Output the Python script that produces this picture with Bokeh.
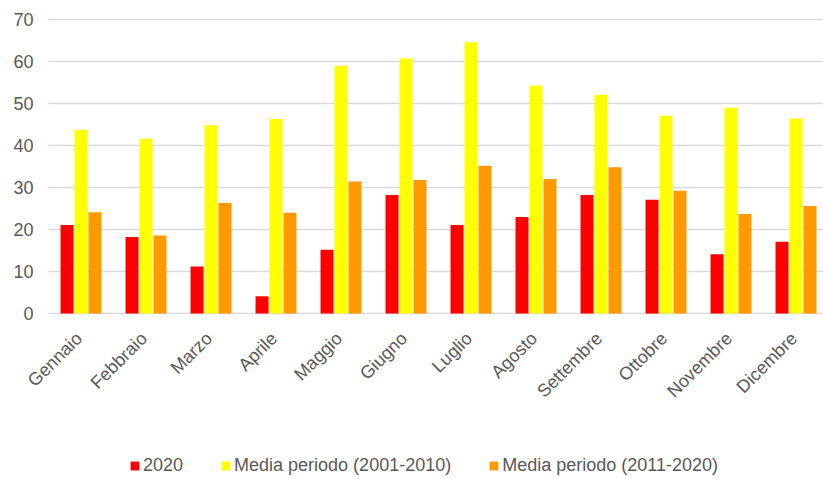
import math
from bokeh.plotting import figure
from bokeh.models import ColumnDataSource, Legend, LegendItem, Range1d
from bokeh.core.properties import value
from bokeh.embed import file_html
from bokeh.resources import INLINE

# Monthly values
months = ["Gennaio", "Febbraio", "Marzo", "Aprile", "Maggio", "Giugno",
          "Luglio", "Agosto", "Settembre", "Ottobre", "Novembre", "Dicembre"]
y2020 = [21.1, 18.2, 11.2, 4.1, 15.2, 28.2, 21.1, 23.0, 28.2, 27.1, 14.1, 17.1]
media_2001_2010 = [43.7, 41.6, 44.8, 46.3, 59.0, 60.7, 64.6, 54.3, 52.1, 47.1, 49.0, 46.4]
media_2011_2020 = [24.1, 18.6, 26.3, 24.0, 31.4, 31.8, 35.2, 32.0, 34.8, 29.2, 23.7, 25.6]
series_names = ["2020", "Media periodo (2001-2010)", "Media periodo (2011-2020)"]
y_ticks = [0, 10, 20, 30, 40, 50, 60, 70]

colors = ["#FF0000", "#FFFF00", "#FF9900"]
text_color = "#595959"
grid_color = "#D9D9D9"
font = "Liberation Sans"

W, H = 823, 479
plot_left = 48                      # screen column where the gridlines start
top_px, zero_px = 19, 313           # screen rows of the 70 and 0 gridlines
px_per_unit = (zero_px - top_px) / 70.0
px_per_cat = 65.0

centers = [i + 0.5 for i in range(len(months))]
offsets = [-0.215, 0.0, 0.215]
bar_w = 0.2

# The frame covers the whole canvas, so tick labels, month names and the
# legend are all drawn inside it around the gridded area.
x_start = -plot_left / px_per_cat
x_end = (W - plot_left) / px_per_cat
y_start = -(H - zero_px) / px_per_unit
y_end = 70 + top_px / px_per_unit

p = figure(width=W, height=H, output_backend="svg", toolbar_location=None,
           x_range=Range1d(x_start, x_end), y_range=Range1d(y_start, y_end),
           min_border=0)
p.outline_line_color = None
p.background_fill_color = "white"
p.border_fill_color = "white"
p.xaxis.visible = False
p.yaxis.visible = False
p.xgrid.grid_line_color = None
p.ygrid.grid_line_color = None

# horizontal gridlines (the one at 0 doubles as the category axis line)
p.segment(x0=[0] * len(y_ticks), x1=[x_end] * len(y_ticks), y0=y_ticks, y1=y_ticks,
          line_color=grid_color, line_width=1.5)

# value labels left of the gridlines
p.text(x=[0] * len(y_ticks), y=y_ticks, text=[str(t) for t in y_ticks],
       x_offset=-15, text_align="right", text_baseline="middle",
       text_font=value(font), text_font_size="18px", text_color=text_color)

renderers = []
for vals, off, col in zip([y2020, media_2001_2010, media_2011_2020], offsets, colors):
    src = ColumnDataSource(dict(x=[c + off for c in centers], top=vals))
    r = p.vbar(x="x", top="top", width=bar_w, bottom=0, source=src,
               fill_color=col, line_color=None)
    renderers.append(r)

# rotated month names under each group
lab_src = ColumnDataSource(dict(x=centers, y=[0] * len(months), text=months))
p.text(x="x", y="y", text="text", source=lab_src, angle=math.pi / 4,
       x_offset=-2, y_offset=22, text_align="right", text_baseline="middle",
       text_font=value(font), text_font_size="18px", text_color=text_color)

legend = Legend(items=[LegendItem(label=n, renderers=[r]) for n, r in zip(series_names, renderers)],
                orientation="horizontal", location=(129, 3),
                padding=0, margin=0, spacing=37,
                glyph_width=11, glyph_height=11, label_standoff=3,
                label_text_font=font, label_text_font_size="18px",
                label_text_color=text_color, label_height=18,
                border_line_color=None, background_fill_alpha=0)
p.add_layout(legend, "center")

open("out.html", "w").write(file_html(p, INLINE))
